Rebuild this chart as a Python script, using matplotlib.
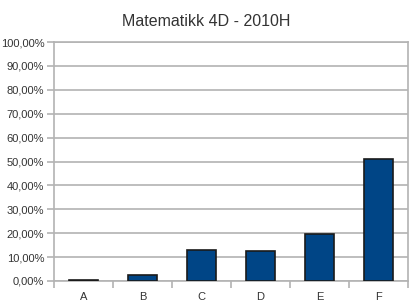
import matplotlib.pyplot as plt
from matplotlib.ticker import FuncFormatter

categories = ["A", "B", "C", "D", "E", "F"]
shares = [0.4, 2.5, 13.1, 12.6, 19.8, 51.2]
y_ticks = list(range(0, 101, 10))

plt.rcParams["font.family"] = ["Liberation Sans", "DejaVu Sans"]

fig = plt.figure(figsize=(4.13, 3.06), dpi=100)
ax = fig.add_axes([54 / 413, 1 - 281 / 306, 354 / 413, 239 / 306])

x = list(range(len(categories)))
ax.bar(x, shares, width=0.5, color="#004586", edgecolor="#1a1a1a",
       linewidth=1.2, zorder=3)

ax.set_xlim(-0.5, len(categories) - 0.5)
ax.set_ylim(0, 100)
ax.set_yticks(y_ticks)
ax.yaxis.set_major_formatter(
    FuncFormatter(lambda v, p: f"{v:.2f}%".replace(".", ",")))
ax.yaxis.grid(True, color="#b3b3b3", linewidth=1.2, zorder=0)

ax.set_xticks(x)
ax.set_xticklabels(categories)
ax.set_xticks([i - 0.5 for i in range(len(categories) + 1)], minor=True)
ax.tick_params(axis="x", which="major", length=0, pad=8)
ax.tick_params(axis="x", which="minor", length=5, color="#b3b3b3", width=1.2)
ax.tick_params(axis="y", length=5, color="#b3b3b3", width=1.2, pad=2)
ax.tick_params(labelsize=8, labelcolor="#333333")

for s in ax.spines.values():
    s.set_color("#b3b3b3")
    s.set_linewidth(1.2)

fig.text(206 / 413, 1 - 21 / 306, "Matematikk 4D - 2010H",
         ha="center", va="center", fontsize=11.5, color="#333333")

fig.savefig("out.png", dpi=100)
